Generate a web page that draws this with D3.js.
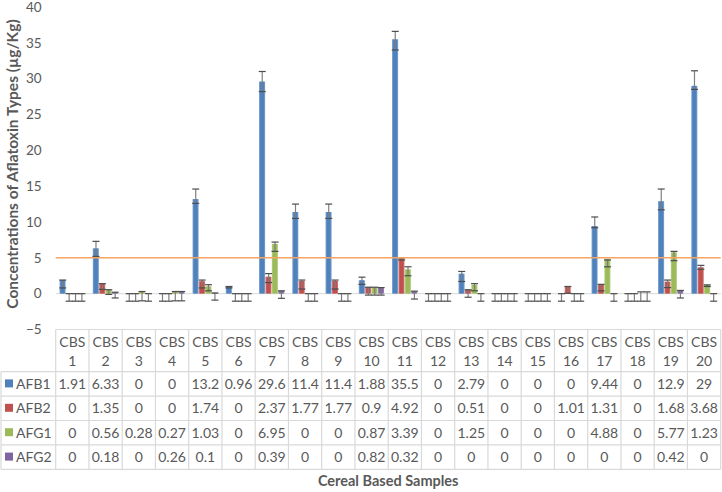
<!DOCTYPE html>
<html>
<head>
<meta charset="utf-8">
<script src="https://cdn.jsdelivr.net/npm/d3@7"></script>
<style>
  body { margin: 0; background: #fff; }
  svg { display: block; font-family: Lato, "Open Sans", sans-serif; }
</style>
</head>
<body>
<svg id="chart" width="722" height="492"></svg>
<script>
// data
const categories = ["CBS 1","CBS 2","CBS 3","CBS 4","CBS 5","CBS 6","CBS 7","CBS 8","CBS 9","CBS 10",
  "CBS 11","CBS 12","CBS 13","CBS 14","CBS 15","CBS 16","CBS 17","CBS 18","CBS 19","CBS 20"];
const seriesNames = ["AFB1", "AFB2", "AFG1", "AFG2"];
const seriesColors = ["#4f81bd", "#c0504d", "#9bbb59", "#8064a2"];
const yTicks = [-5, 0, 5, 10, 15, 20, 25, 30, 35, 40];
const limitValue = 5;

const afb1 = [1.91, 6.33, 0, 0, 13.2, 0.96, 29.6, 11.4, 11.4, 1.88, 35.5, 0, 2.79, 0, 0, 0, 9.44, 0, 12.9, 29];
const afb2 = [0, 1.35, 0, 0, 1.74, 0, 2.37, 1.77, 1.77, 0.9, 4.92, 0, 0.51, 0, 0, 1.01, 1.31, 0, 1.68, 3.68];
const afg1 = [0, 0.56, 0.28, 0.27, 1.03, 0, 6.95, 0, 0, 0.87, 3.39, 0, 1.25, 0, 0, 0, 4.88, 0, 5.77, 1.23];
const afg2 = [0, 0.18, 0, 0.26, 0.1, 0, 0.39, 0, 0, 0.82, 0.32, 0, 0, 0, 0, 0, 0, 0, 0.42, 0];

// error bar ends (low / high)
const afb1Lo = [0.8, 5.2, -1.05, -1.05, 12.6, 0.8, 28.2, 10.5, 10.5, 1.3, 34.0, -1.05, 1.7, -1.05, -1.05, -1.05, 9.2, -1.05, 11.7, 28.5];
const afb1Hi = [1.9, 7.3, 0, 0, 14.6, 1.0, 31.0, 12.5, 12.5, 2.3, 36.6, 0, 3.1, 0, 0, 0, 10.7, 0, 14.6, 31.1];
const afb2Lo = [-1.05, 0.6, -1.05, -1.05, 0.8, -1.05, 1.55, 0.65, 0.65, -0.2, 4.7, -1.05, -0.5, -1.05, -1.05, 0.05, 0.4, -1.05, 0.85, 3.4];
const afb2Hi = [0, 1.4, 0, 0, 1.9, 0, 2.8, 1.9, 1.9, 0.9, 5.0, 0, 0.55, 0, 0, 1.0, 1.3, 0, 1.9, 3.95];
const afg1Lo = [-1.05, -0.1, -1.0, -1.0, 0.4, -1.05, 5.9, -1.05, -1.05, -0.2, 2.5, -1.05, 0.4, -1.05, -1.05, -1.05, 3.75, -1.05, 4.6, 1.0];
const afg1Hi = [0, 0.55, 0.3, 0.3, 1.25, 0, 7.2, 0, 0, 0.9, 3.75, 0, 1.4, 0, 0, 0, 4.7, 0.25, 5.9, 1.23];
const afg2Lo = [-1.05, -0.6, -1.05, -1.0, -0.9, -1.05, -0.65, -1.05, -1.05, -0.2, -0.75, -1.05, -1.05, -1.05, -1.05, -1.05, -1.05, -1.05, -0.6, -1.05];
const afg2Hi = [0, 0.2, 0, 0.3, 0.1, 0, 0.4, 0, 0, 0.85, 0.35, 0, 0, 0, 0, 0, 0, 0.25, 0.45, 0];

const seriesValues = [afb1, afb2, afg1, afg2];
const seriesLo = [afb1Lo, afb2Lo, afg1Lo, afg2Lo];
const seriesHi = [afb1Hi, afb2Hi, afg1Hi, afg2Hi];

const textColor = "#595959";
const gridColor = "#d9d9d9";

const svg = d3.select("#chart");

const plotLeft = 55.7, plotRight = 720.7, plotTop = 7, plotBottom = 329.5;

const x = d3.scaleBand().domain(categories).range([plotLeft, plotRight]);
const xs = d3.scaleBand().domain(seriesNames)
  .range([0, x.bandwidth()]).paddingOuter(0.6).paddingInner(0);
const y = d3.scaleLinear().domain([-5, 40]).range([plotBottom, plotTop]);

// gradients for the bars
const defs = svg.append("defs");
seriesColors.forEach((c, i) => {
  const g = defs.append("linearGradient").attr("id", "grad" + i)
    .attr("x1", 0).attr("x2", 1).attr("y1", 0).attr("y2", 0);
  const light = d3.interpolateRgb(c, "#ffffff")(0.3);
  g.append("stop").attr("offset", "0%").attr("stop-color", light);
  g.append("stop").attr("offset", "25%").attr("stop-color", c);
  g.append("stop").attr("offset", "75%").attr("stop-color", c);
  g.append("stop").attr("offset", "100%").attr("stop-color", light);
});

// y axis labels
const yAxis = svg.append("g")
  .attr("transform", "translate(" + (plotLeft - 4) + ",0)")
  .call(d3.axisLeft(y).tickValues(yTicks).tickSize(0).tickPadding(10));
yAxis.select(".domain").remove();
yAxis.selectAll("text")
  .attr("fill", textColor).style("font-size", "13.5px").style("font-family", "Lato, sans-serif");

// zero line
svg.append("line")
  .attr("x1", plotLeft).attr("x2", plotRight)
  .attr("y1", y(0)).attr("y2", y(0))
  .attr("stroke", gridColor).attr("stroke-width", 1);

// bars
const barData = [];
seriesNames.forEach((s, si) => {
  categories.forEach((c, ci) => {
    barData.push({ cat: c, s: s, si: si, v: seriesValues[si][ci], lo: seriesLo[si][ci], hi: seriesHi[si][ci] });
  });
});

svg.append("g").selectAll("rect")
  .data(barData.filter(d => d.v > 0))
  .join("rect")
  .attr("x", d => x(d.cat) + xs(d.s))
  .attr("width", xs.bandwidth() - 0.3)
  .attr("y", d => y(d.v))
  .attr("height", d => y(0) - y(d.v))
  .attr("fill", d => "url(#grad" + d.si + ")");

// error bars
const errG = svg.append("g").attr("stroke", "#4d4d4d").attr("stroke-width", 1.2);
const cx = d => x(d.cat) + xs(d.s) + xs.bandwidth() / 2;
errG.selectAll("line.v").data(barData).join("line").attr("class", "v")
  .attr("x1", cx).attr("x2", cx)
  .attr("y1", d => y(d.lo)).attr("y2", d => y(d.hi))
  .attr("stroke", "#7f7f7f");
errG.selectAll("line.lo").data(barData).join("line").attr("class", "lo")
  .attr("x1", d => cx(d) - 3.5).attr("x2", d => cx(d) + 3.5)
  .attr("y1", d => y(d.lo)).attr("y2", d => y(d.lo));
errG.selectAll("line.hi").data(barData).join("line").attr("class", "hi")
  .attr("x1", d => cx(d) - 3.5).attr("x2", d => cx(d) + 3.5)
  .attr("y1", d => y(d.hi)).attr("y2", d => y(d.hi));

// limit line
svg.append("line")
  .attr("x1", plotLeft).attr("x2", plotRight)
  .attr("y1", y(limitValue)).attr("y2", y(limitValue))
  .attr("stroke", "#f5a462").attr("stroke-width", 1.5);

// data table
const rowTop = 371.7, rowH = 24.4;
const table = svg.append("g").attr("stroke", gridColor).attr("stroke-width", 1.2);
table.append("line").attr("x1", plotLeft).attr("x2", plotRight).attr("y1", plotBottom).attr("y2", plotBottom);
d3.range(seriesNames.length + 1).forEach(r => {
  table.append("line").attr("x1", 1).attr("x2", plotRight)
    .attr("y1", rowTop + r * rowH).attr("y2", rowTop + r * rowH);
});
categories.concat([null]).forEach((c, i) => {
  const xx = plotLeft + i * x.bandwidth();
  table.append("line").attr("x1", xx).attr("x2", xx)
    .attr("y1", plotBottom).attr("y2", rowTop + seriesNames.length * rowH);
});
table.append("line").attr("x1", 1).attr("x2", 1)
  .attr("y1", rowTop).attr("y2", rowTop + seriesNames.length * rowH);

const head = svg.append("g").attr("fill", textColor).style("font-size", "14px").attr("text-anchor", "middle");
categories.forEach(c => {
  const parts = c.split(" ");
  const t = head.append("text").attr("x", x(c) + x.bandwidth() / 2);
  t.append("tspan").attr("x", x(c) + x.bandwidth() / 2).attr("y", 347).text(parts[0]);
  t.append("tspan").attr("x", x(c) + x.bandwidth() / 2).attr("y", 366).text(parts[1]);
});

const body = svg.append("g").attr("fill", textColor).style("font-size", "14px");
seriesNames.forEach((s, si) => {
  const yy = rowTop + si * rowH + rowH / 2;
  body.append("rect").attr("x", 5).attr("y", yy - 4.5).attr("width", 8).attr("height", 8)
    .attr("fill", seriesColors[si]);
  body.append("text").attr("x", 16).attr("y", yy + 5).text(s);
  categories.forEach((c, ci) => {
    body.append("text").attr("x", x(c) + x.bandwidth() / 2).attr("y", yy + 5)
      .attr("text-anchor", "middle").text(String(seriesValues[si][ci]));
  });
});

// axis titles
svg.append("text")
  .attr("x", (plotLeft + plotRight) / 2).attr("y", 486)
  .attr("text-anchor", "middle").attr("fill", textColor)
  .style("font-size", "14.5px").style("font-weight", "bold")
  .text("Cereal Based Samples");

svg.append("text")
  .attr("transform", "translate(17.5," + 164 + ") rotate(-90)")
  .attr("text-anchor", "middle").attr("fill", textColor)
  .style("font-size", "15.5px").style("font-weight", "bold")
  .text("Concentrations of Aflatoxin Types (µg/Kg)");
</script>
</body>
</html>
